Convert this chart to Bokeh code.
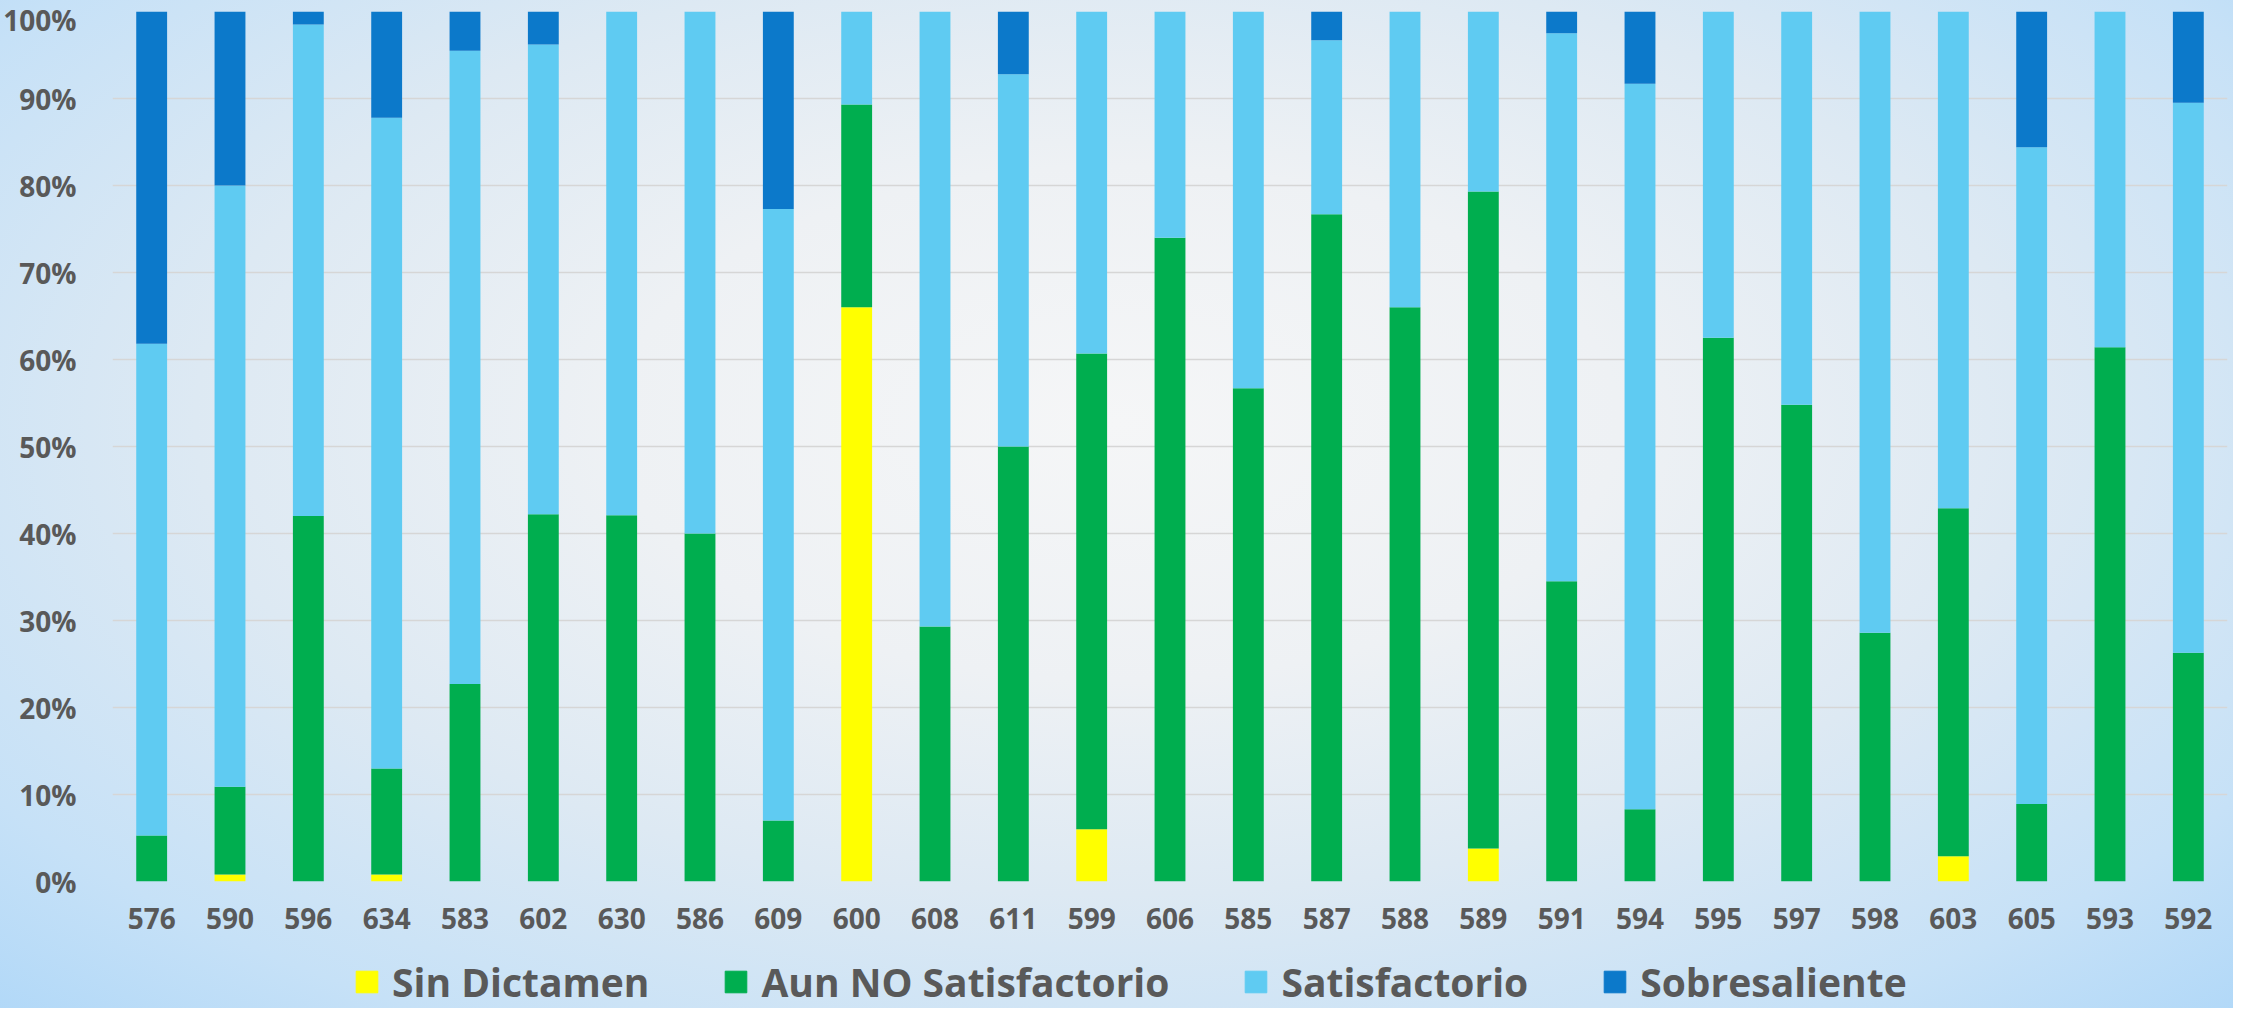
from bokeh.plotting import figure
from bokeh.layouts import column
from bokeh.models import ColumnDataSource, NumeralTickFormatter, FixedTicker, Legend, LegendItem, FactorRange, Range1d
from bokeh.embed import file_html
from bokeh.resources import INLINE

categories = ["576", "590", "596", "634", "583", "602", "630", "586", "609", "600",
              "608", "611", "599", "606", "585", "587", "588", "589", "591", "594",
              "595", "597", "598", "603", "605", "593", "592"]
sin_dictamen = [0, 0.8, 0, 0.8, 0, 0, 0, 0, 0, 66.0, 0, 0, 6.0, 0, 0, 0, 0, 3.8,
                0, 0, 0, 0, 0, 2.9, 0, 0, 0]
aun_no_satisf = [5.3, 10.1, 42.0, 12.2, 22.7, 42.2, 42.1, 40.0, 7.0, 23.3, 29.3, 50.0,
                 54.7, 74.0, 56.7, 76.7, 66.0, 75.5, 34.5, 8.3, 62.5, 54.8, 28.6, 40.0,
                 8.9, 61.4, 26.3]
satisfactorio = [56.5, 69.1, 56.5, 74.8, 72.8, 54.0, 57.9, 60.0, 70.3, 10.7, 70.7, 42.8,
                 39.3, 26.0, 43.3, 20.0, 34.0, 20.7, 63.0, 83.4, 37.5, 45.2, 71.4, 57.1,
                 75.5, 38.6, 63.2]
sobresaliente = [38.2, 20.0, 1.5, 12.2, 4.5, 3.8, 0, 0, 22.7, 0, 0, 7.2, 0, 0, 0, 3.3,
                 0, 0, 2.5, 8.3, 0, 0, 0, 0, 15.6, 0, 10.5]
series_names = ["Sin Dictamen", "Aun NO Satisfactorio", "Satisfactorio", "Sobresaliente"]
y_ticks = [0, 0.1, 0.2, 0.3, 0.4, 0.5, 0.6, 0.7, 0.8, 0.9, 1.0]

colors = ["#FFFF00", "#00AE4F", "#5FCBF2", "#0C79CA"]
keys = ["sd", "an", "sa", "so"]

source = ColumnDataSource(dict(
    cat=categories,
    sd=[v / 100 for v in sin_dictamen],
    an=[v / 100 for v in aun_no_satisf],
    sa=[v / 100 for v in satisfactorio],
    so=[v / 100 for v in sobresaliente],
))

W = 2233
p = figure(width=W, height=950, x_range=FactorRange(*categories), y_range=Range1d(0, 1),
           output_backend="svg", toolbar_location=None,
           min_border_left=105, min_border_right=6, min_border_top=11, min_border_bottom=69)
p.background_fill_alpha = 0
p.border_fill_alpha = 0
p.outline_line_color = None

renderers = p.vbar_stack(keys, x="cat", width=0.394, color=colors, source=source,
                         line_color=None)

text_color = "#595959"
font = "Open Sans"

p.yaxis.ticker = FixedTicker(ticks=y_ticks)
p.yaxis.formatter = NumeralTickFormatter(format="0%")
for ax in (p.xaxis, p.yaxis):
    ax.axis_line_color = None
    ax.major_tick_line_color = None
    ax.minor_tick_line_color = None
    ax.major_label_text_font = font
    ax.major_label_text_font_style = "bold"
    ax.major_label_text_font_size = "28px"
    ax.major_label_text_color = text_color
p.yaxis.major_label_standoff = 30
p.xaxis.major_label_standoff = 20

p.xgrid.grid_line_color = None
p.ygrid.ticker = FixedTicker(ticks=y_ticks)
p.ygrid.grid_line_color = "#d6d6d6"
p.ygrid.grid_line_width = 1.5

# legend strip below the chart (its frame is aligned with the chart's frame)
leg_fig = figure(width=W, height=58, output_backend="svg", toolbar_location=None,
                 x_range=Range1d(0, 1), y_range=Range1d(0, 1),
                 min_border=0, min_border_left=0, min_border_right=0,
                 min_border_top=0, min_border_bottom=0)
leg_fig.axis.visible = False
leg_fig.grid.visible = False
leg_fig.outline_line_color = None
leg_fig.background_fill_alpha = 0
leg_fig.border_fill_alpha = 0
# zero-height swatch carriers for the legend (not visible in the strip)
leg_src = ColumnDataSource(dict(x=[0.5], b=[0.0], t=[0.0]))
leg_renderers = [leg_fig.vbar(x="x", bottom="b", top="t", width=0.01, color=c, source=leg_src)
                 for c in colors]

legend = Legend(items=[LegendItem(label=n, renderers=[r]) for n, r in zip(series_names, leg_renderers)],
                orientation="horizontal", location=(241, 0),
                glyph_width=27, glyph_height=27, label_standoff=12, spacing=73,
                padding=0, margin=0, border_line_color=None, background_fill_alpha=0,
                label_text_font=font, label_text_font_style="bold",
                label_text_font_size="39px", label_text_color=text_color)
leg_fig.add_layout(legend, "center")

layout = column(p, leg_fig, spacing=0)
layout.styles = {"background": "radial-gradient(ellipse 75% 85% at 50% 42%, #f5f6f7 0%, #eef1f4 30%, #dde9f3 55%, #c6e1f7 80%, #acd6f8 100%)"}

open("out.html", "w").write(file_html(layout, INLINE))
